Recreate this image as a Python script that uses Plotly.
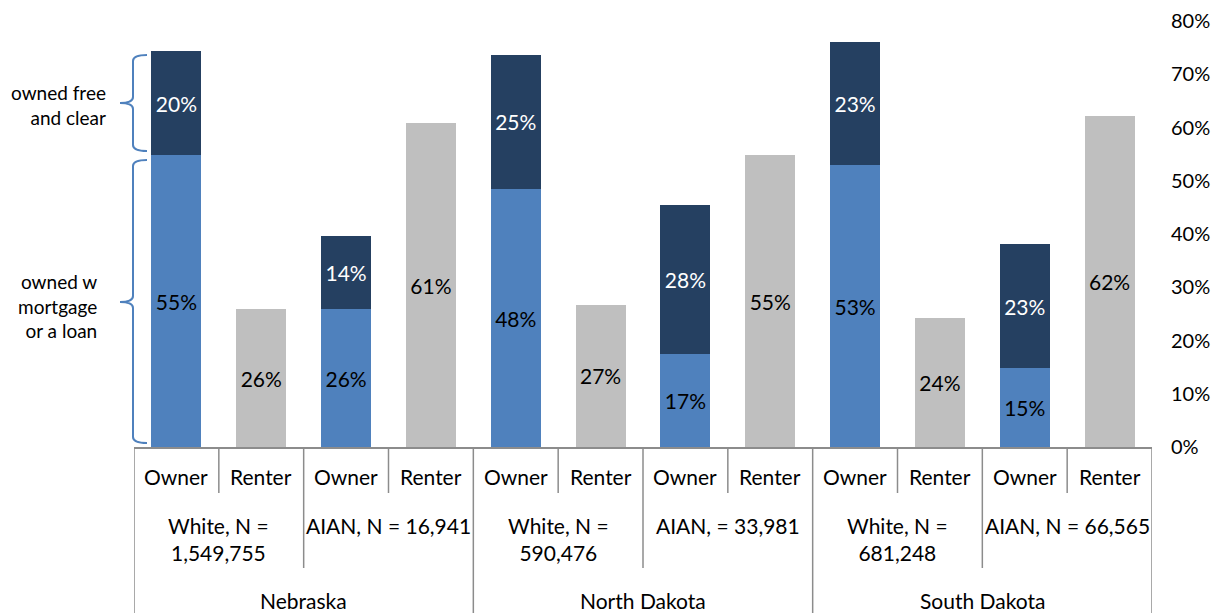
import plotly.graph_objects as go

# ---------------- data ----------------
states = ["Nebraska", "North Dakota", "South Dakota"]
groups = ["White, N =<br>1,549,755", "AIAN, N = 16,941",
          "White, N =<br>590,476", "AIAN, = 33,981",
          "White, N =<br>681,248", "AIAN, N = 66,565"]
tenure = ["Owner", "Renter"] * 6

owner_mortgage = [54.8, 25.9, 48.4, 17.4, 52.9, 14.8]   # % owned w mortgage or a loan
owner_free = [19.6, 13.7, 25.3, 28.1, 23.2, 23.3]       # % owned free and clear
renter = [25.9, 60.8, 26.7, 54.8, 24.2, 62.2]           # % renter

y_ticks = [0, 10, 20, 30, 40, 50, 60, 70, 80]
y_tick_text = [f"{v}%" for v in y_ticks]

# ---------------- layout constants ----------------
OFF = 8                      # page body margin
W, H = 1228, 613             # target picture size
ML, MR, MT, MB = 134 - OFF, 76, 21 - OFF, 166
FW, FH = W - OFF, H - OFF
PW, PH = FW - ML - MR, FH - MT - MB
FONT = "Lato, 'Open Sans', sans-serif"
FS = 21
BLUE, DARK, GRAY = "#4F81BD", "#254061", "#BFBFBF"
LINE = "#8C8C8C"


def px(xp):
    return (xp - OFF - ML) / PW


def py(yp):
    return (FH - MB - (yp - OFF)) / PH


owner_x = [2 * i for i in range(6)]
renter_x = [2 * i + 1 for i in range(6)]
BW = 0.59

fig = go.Figure()
fig.add_trace(go.Bar(
    x=owner_x, y=owner_mortgage, width=BW, marker=dict(color=BLUE, line=dict(width=0)),
    text=[f"{v:.0f}%" for v in owner_mortgage], textposition="inside",
    insidetextanchor="middle", textangle=0, constraintext="none",
    textfont=dict(color="black", size=FS, family=FONT), name="owned w mortgage",
))
fig.add_trace(go.Bar(
    x=owner_x, y=owner_free, width=BW, marker=dict(color=DARK, line=dict(width=0)),
    text=[f"{v:.0f}%" for v in owner_free], textposition="inside",
    insidetextanchor="middle", textangle=0, constraintext="none",
    textfont=dict(color="white", size=FS, family=FONT), name="owned free and clear",
))
fig.add_trace(go.Bar(
    x=renter_x, y=renter, width=BW, marker=dict(color=GRAY, line=dict(width=0)),
    text=[f"{v:.0f}%" for v in renter], textposition="inside",
    insidetextanchor="middle", textangle=0, constraintext="none",
    textfont=dict(color="black", size=FS, family=FONT), name="Renter",
))

shapes = []
# category table lines (vertical)
row1_bot, row2_bot, row3_bot = 493, 568, H + 2
for b in range(13):
    xb = b - 0.5
    if b % 4 == 0:
        yb = row3_bot
    elif b % 2 == 0:
        yb = row2_bot
    else:
        yb = row1_bot
    shapes.append(dict(type="line", xref="x", yref="paper", x0=xb, x1=xb,
                       y0=0, y1=py(yb), line=dict(color=LINE, width=1.5)))


# braces
def brace(top, bot, tip):
    xv, xe, xt = 133, 147, 120
    r = 6
    pts = [
        f"M {px(xe)},{py(top)}",
        f"Q {px(xv)},{py(top)} {px(xv)},{py(top + r)}",
        f"L {px(xv)},{py(tip - r)}",
        f"Q {px(xv)},{py(tip)} {px(xt)},{py(tip)}",
        f"Q {px(xv)},{py(tip)} {px(xv)},{py(tip + r)}",
        f"L {px(xv)},{py(bot - r)}",
        f"Q {px(xv)},{py(bot)} {px(xe)},{py(bot)}",
    ]
    return dict(type="path", xref="paper", yref="paper", path=" ".join(pts),
                line=dict(color=BLUE, width=2))


shapes.append(brace(55, 151, 103))
shapes.append(brace(160, 443, 302))

annotations = []
for i, t in enumerate(tenure):
    annotations.append(dict(x=i, y=py(477), xref="x", yref="paper", text=t,
                            showarrow=False, yanchor="middle",
                            font=dict(size=FS, family=FONT, color="black")))
for g, t in enumerate(groups):
    yy = 539 if "<br>" in t else 525
    annotations.append(dict(x=2 * g + 0.5, y=py(yy), xref="x", yref="paper", text=t,
                            showarrow=False, yanchor="middle",
                            font=dict(size=FS, family=FONT, color="black")))
for s, t in enumerate(states):
    annotations.append(dict(x=4 * s + 1.5, y=py(600), xref="x", yref="paper", text=t,
                            showarrow=False, yanchor="middle",
                            font=dict(size=FS, family=FONT, color="black")))
annotations.append(dict(x=px(108), y=py(105), xref="paper", yref="paper",
                        text="owned free<br>and clear", align="right",
                        showarrow=False, xanchor="right", yanchor="middle",
                        font=dict(size=19, family=FONT, color="black")))
annotations.append(dict(x=px(99), y=py(306), xref="paper", yref="paper",
                        text="owned w<br>mortgage<br>or a loan", align="right",
                        showarrow=False, xanchor="right", yanchor="middle",
                        font=dict(size=19, family=FONT, color="black")))

fig.update_layout(
    width=FW, height=FH, barmode="stack", showlegend=False,
    margin=dict(l=ML, r=MR, t=MT, b=MB, autoexpand=False),
    paper_bgcolor="white", plot_bgcolor="white",
    font=dict(family=FONT, size=FS, color="black"),
    shapes=shapes, annotations=annotations,
    xaxis=dict(range=[-0.5, 11.5], showticklabels=False, showgrid=False, zeroline=False,
               showline=True, linecolor=LINE, linewidth=1.5, ticks=""),
    yaxis=dict(range=[0, 80], side="right", tickvals=y_ticks, ticktext=y_tick_text,
               showgrid=False, zeroline=False, showline=False, ticks="",
               ticklabelstandoff=18, tickfont=dict(size=20, family=FONT, color="black")),
)

fig.write_html("out.html")
